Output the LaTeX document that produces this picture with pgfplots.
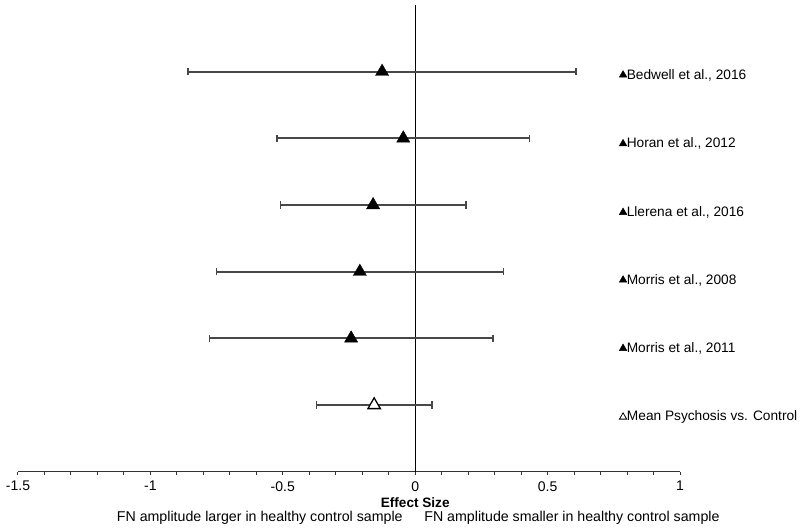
\documentclass[border=0pt]{standalone}
\usepackage{pgfplots}
\pgfplotsset{compat=1.18}
\usepackage{pgfplotstable}
\usepackage{fontspec}
\setmainfont{Liberation Sans}

\pgfplotstableread{
y mean err
6 -0.125 0.733
5 -0.045 0.477
4 -0.159 0.350
3 -0.209 0.542
2 -0.242 0.535
}\studies
\pgfplotstableread{
y mean err
1 -0.155 0.218
}\pooled

\begin{document}
\fontsize{13}{15}\selectfont
\begin{tikzpicture}
\useasboundingbox (-18pt,-59.3pt) rectangle (782pt,471.7pt);
\begin{axis}[
  scale only axis,
  width=662pt, height=466.7pt,
  xmin=-1.5, xmax=1, ymin=0, ymax=7,
  axis x line=bottom,
  axis y line=none,
  x axis line style={-, line width=1.3pt, black!80},
  xtick={-1.5,-1,-0.5,0,0.5,1},
  xticklabels={-1.5,-1,-0.5,0,0.5,1},
  minor tick num=4,
  tick align=outside,
  major tick length=3.5pt, minor tick length=3pt,
  tick style={line width=1pt, black!80},
  xticklabel style={font=\fontsize{14}{15}\selectfont, yshift=-1.5pt},
  clip=false,
  error bars/error bar style={line width=2pt, black!72},
  error bars/error mark options={line width=1.6pt, mark size=3.8pt, black!72},
]
% zero line
\addplot[black, line width=1.3pt] coordinates {(0,0) (0,7)};
% error bars
\addplot[only marks, mark=none,
  error bars/.cd, x dir=both, x explicit, error mark=|]
  table[x=mean, y=y, x error=err] {\studies};
\addplot[only marks, mark=none,
  error bars/.cd, x dir=both, x explicit, error mark=|]
  table[x=mean, y=y, x error=err] {\pooled};
% markers
\addplot[only marks, mark=triangle*, mark size=7.6pt, black] table[x=mean, y=y] {\studies};
\addplot[only marks, mark=triangle*, mark size=7.2pt, mark options={draw=black, fill=white, line width=1.3pt}] table[x=mean, y=y] {\pooled};
% right-side labels
\addplot[only marks, mark=triangle*, mark size=4.4pt, black,
  point meta=explicit symbolic, nodes near coords,
  every node near coord/.append style={anchor=west, xshift=3.5pt, inner sep=0pt, black, font=\fontsize{13.7}{15}\selectfont}]
  coordinates {
  (0.785,5.95) [Bedwell et al., 2016]
  (0.785,4.92) [Horan et al., 2012]
  (0.785,3.89) [Llerena et al., 2016]
  (0.785,2.875) [Morris et al., 2008]
  (0.785,1.85) [Morris et al., 2011]
  };
\addplot[only marks, mark=triangle*, mark size=4.2pt, mark options={draw=black, fill=white, line width=0.8pt},
  point meta=explicit symbolic, nodes near coords,
  every node near coord/.append style={anchor=west, xshift=3.5pt, inner sep=0pt, black, font=\fontsize{13.7}{15}\selectfont}]
  coordinates {
  (0.785,0.82) [Mean Psychosis vs. Control]
  };
\node[font=\bfseries\fontsize{13.6}{15}\selectfont, inner sep=0pt] at ([yshift=-30.5pt]axis cs:0,0) {Effect Size};
\node[font=\fontsize{14.2}{15}\selectfont, inner sep=0pt] at ([yshift=-46.5pt]axis cs:-0.587,0) {FN amplitude larger in healthy control sample};
\node[font=\fontsize{14.2}{15}\selectfont, inner sep=0pt] at ([yshift=-46.5pt]axis cs:0.592,0) {FN amplitude smaller in healthy control sample};
\end{axis}
\end{tikzpicture}
\end{document}
